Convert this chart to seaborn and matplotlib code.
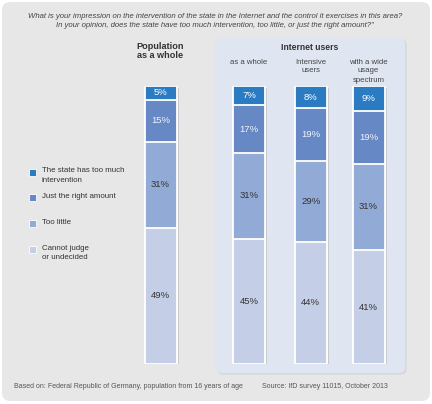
import pandas as pd
import seaborn as sns
import matplotlib.pyplot as plt
from matplotlib.patches import FancyBboxPatch, Rectangle
import matplotlib.patheffects as pe

# Data (percent)
groups = ['Population as a whole', 'Internet users: as a whole', 'Internet users: intensive', 'Internet users: wide spectrum']
too_much = [5, 7, 8, 9]
just_right = [15, 17, 19, 19]
too_little = [31, 31, 29, 31]
undecided = [49, 45, 44, 41]

legend_labels = ['The state has too much\nintervention', 'Just the right amount', 'Too little', 'Cannot judge\nor undecided']
colors = ['#2b7bc2', '#6689c5', '#92aad6', '#c4cee7']
label_colors = ['white', '#f2f4fa', '#333333', '#333333']

W, H = 432, 404
positions = [0, 1.47, 2.49, 3.45]

def px(x, y):
    return x / W, 1 - y / H

sns.set_theme(style='white')
plt.rcParams['font.family'] = ['Liberation Sans', 'DejaVu Sans']

fig = plt.figure(figsize=(W / 100, H / 100), dpi=100)
fig.patch.set_facecolor('white')

# rounded grey background
bx, by = px(2, 401)
bg = FancyBboxPatch((bx, by), 428 / W, 399 / H, boxstyle='round,pad=0,rounding_size=0.02',
                    transform=fig.transFigure, facecolor='#e7e7e7', edgecolor='none', zorder=-3)
fig.patches.append(bg)

# Internet users panel
pxl, pyl = px(215, 373)
panel = FancyBboxPatch((pxl, pyl), 190 / W, 336 / H, boxstyle='round,pad=0,rounding_size=0.015',
                       transform=fig.transFigure, facecolor='#dfe5f1', edgecolor='none', zorder=-2,
                       path_effects=[pe.SimplePatchShadow(offset=(1.2, -1.2), shadow_rgbFace='#cfcfcf', alpha=0.6), pe.Normal()])
fig.patches.append(panel)

# bar axes
u = (368.5 - 160.5) / positions[-1]
ax = fig.add_axes([130 / W, (H - 364) / H, 270 / W, 278 / H])
ax.patch.set_alpha(0)

df = pd.DataFrame({'group': groups, 'pos': positions, 'too_much': too_much,
                   'just_right': just_right, 'too_little': too_little, 'undecided': undecided})
keys = ['undecided', 'too_little', 'just_right', 'too_much']
df['c1'] = df['undecided']
df['c2'] = df['c1'] + df['too_little']
df['c3'] = df['c2'] + df['just_right']
df['c4'] = df['c3'] + df['too_much']

bar_w = (32 / u) / (positions[3] - positions[2])
for cum, col in zip(['c4', 'c3', 'c2', 'c1'], colors):
    sns.barplot(data=df, x='pos', y=cum, native_scale=True, color=col, width=bar_w,
                edgecolor='white', linewidth=1.3, saturation=1, ax=ax)

# subtle shadow on the full bars
for p in ax.patches[:4]:
    p.set_path_effects([pe.SimplePatchShadow(offset=(1.5, -1.5), shadow_rgbFace='#b8b8b8', alpha=0.6), pe.Normal()])

# percentage labels
for _, row in df.iterrows():
    bottom = 0
    for key, lc in zip(keys, label_colors[::-1]):
        v = row[key]
        ax.text(row['pos'], bottom + v / 2, f'{v}%', ha='center', va='center', fontsize=6.8, color=lc)
        bottom += v

ax.set_xlim((130 - 160.5) / u, (400 - 160.5) / u)
ax.set_ylim(0, 100)
ax.axis('off')

# question
fig.text(*px(215, 16), 'What is your impression on the intervention of the state in the Internet and the control it exercises in this area?',
         ha='center', va='center', fontsize=5.6, style='italic', color='#444444')
fig.text(*px(215, 25.5), 'In your opinion, does the state have too much intervention, too little, or just the right amount?"',
         ha='center', va='center', fontsize=5.6, style='italic', color='#444444')

# headers
fig.text(*px(160.5, 51), 'Population\nas a whole', ha='center', va='center', fontsize=6.6,
         fontweight='bold', color='#333333', linespacing=1.0)
fig.text(*px(310, 47), 'Internet users', ha='center', va='center', fontsize=6.2,
         fontweight='bold', color='#333333')
fig.text(*px(249, 58.5), 'as a whole', ha='center', va='top', fontsize=5.6, color='#444444')
fig.text(*px(310.5, 58.5), 'Intensive\nusers', ha='center', va='top', fontsize=5.6, color='#444444', linespacing=1.4)
fig.text(*px(368.5, 58.5), 'with a wide\nusage\nspectrum', ha='center', va='top', fontsize=5.6, color='#444444', linespacing=1.4)

# legend
leg_y = [172, 197, 223, 249]
for y, lab, col in zip(leg_y, legend_labels, colors):
    sx, sy = px(29, y + 3.5)
    sq = Rectangle((sx, sy), 7 / W, 7 / H, transform=fig.transFigure, facecolor=col,
                   edgecolor='white', linewidth=0.6, zorder=3,
                   path_effects=[pe.SimplePatchShadow(offset=(1, -1), shadow_rgbFace='#bbbbbb', alpha=0.8), pe.Normal()])
    fig.patches.append(sq)
    fig.text(*px(42, y - 4.5), lab, ha='left', va='top', fontsize=5.65, color='#333333', linespacing=1.45)

# footer
fig.text(*px(14, 387), 'Based on: Federal Republic of Germany, population from 16 years of age',
         ha='left', va='center', fontsize=5.0, color='#555555')
fig.text(*px(262, 387), 'Source: IfD survey 11015, October 2013',
         ha='left', va='center', fontsize=5.0, color='#555555')

fig.savefig('out.png', dpi=100)
